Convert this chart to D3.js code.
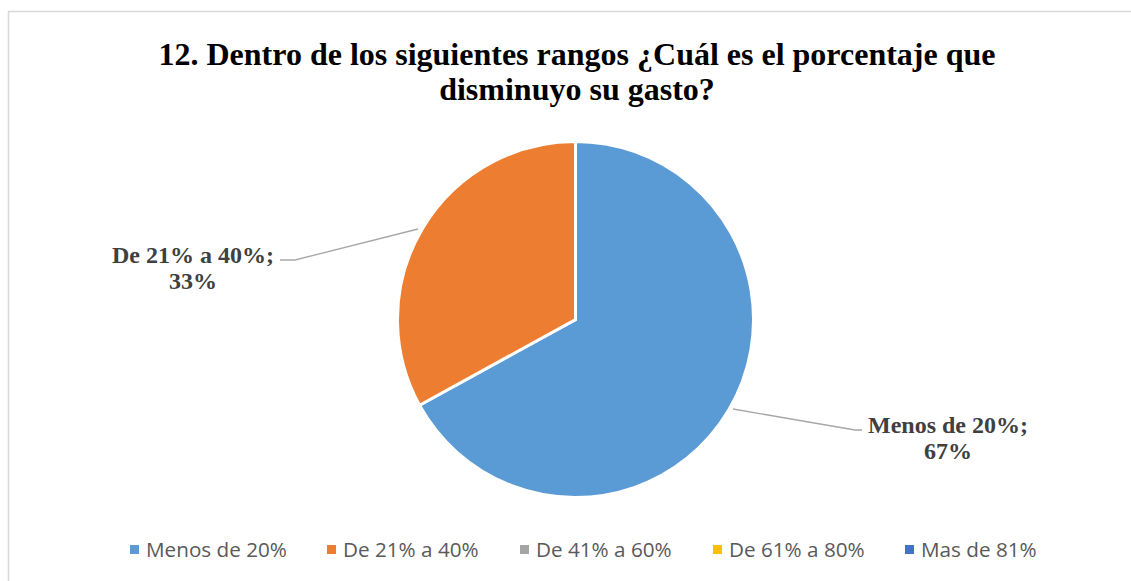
<!DOCTYPE html>
<html>
<head>
<meta charset="utf-8">
<script src="https://cdn.jsdelivr.net/npm/d3@7"></script>
<style>
  body { margin: 0; background: #fff; }
  svg { display: block; }
</style>
</head>
<body>
<svg id="chart"></svg>
<script>
  const categories = ['Menos de 20%', 'De 21% a 40%', 'De 41% a 60%', 'De 61% a 80%', 'Mas de 81%'];
  const values = [67, 33, 0, 0, 0];
  const colors = ['#5B9BD5', '#ED7D31', '#A5A5A5', '#FFC000', '#4472C4'];
  const titleLines = ['12. Dentro de los siguientes rangos ¿Cuál es el porcentaje que', 'disminuyo su gasto?'];

  const width = 1131, height = 581;
  const cx = 575.5, cy = 319.5, radius = 178;

  const svg = d3.select('#chart')
    .attr('width', width)
    .attr('height', height);

  // chart frame
  svg.append('rect')
    .attr('x', 8.5).attr('y', 11.5)
    .attr('width', 1140).attr('height', 600)
    .attr('fill', '#fff')
    .attr('stroke', '#d9d9d9')
    .attr('stroke-width', 1.5);

  svg.append('text')
    .attr('text-anchor', 'middle')
    .attr('font-family', '"Liberation Serif", "Times New Roman", serif')
    .attr('font-weight', 'bold')
    .attr('font-size', 32)
    .attr('fill', '#000')
    .selectAll('tspan')
    .data(titleLines)
    .enter()
    .append('tspan')
    .attr('x', 577)
    .attr('y', (d, i) => 65 + i * 35)
    .text(d => d);

  const data = categories.map((name, i) => ({ name, value: values[i], color: colors[i] }));

  const pie = d3.pie().sort(null).value(d => d.value);
  const arc = d3.arc().innerRadius(0).outerRadius(radius);
  const arcs = pie(data);

  const g = svg.append('g').attr('transform', `translate(${cx},${cy})`);

  g.selectAll('path')
    .data(arcs.filter(d => d.data.value > 0))
    .enter()
    .append('path')
    .attr('d', arc)
    .attr('fill', d => d.data.color)
    .attr('stroke', '#fff')
    .attr('stroke-width', 3)
    .attr('stroke-linejoin', 'miter');

  // data labels with leader lines
  const labelSpots = {
    'Menos de 20%': { x: 948, y: 433, from: [733, 409], elbow: [855, 430], end: [862, 430] },
    'De 21% a 40%': { x: 193, y: 263, from: [418, 229], elbow: [295, 260], end: [280, 260] }
  };

  arcs.filter(d => d.data.value > 0).forEach(d => {
    const spot = labelSpots[d.data.name];
    svg.append('polyline')
      .attr('points', [spot.from, spot.elbow, spot.end].map(p => p.join(',')).join(' '))
      .attr('fill', 'none')
      .attr('stroke', '#a6a6a6')
      .attr('stroke-width', 1.3);

    const t = svg.append('text')
      .attr('text-anchor', 'middle')
      .attr('font-family', '"Liberation Serif", "Times New Roman", serif')
      .attr('font-weight', 'bold')
      .attr('font-size', 24)
      .attr('fill', '#404040');
    t.append('tspan').attr('x', spot.x).attr('y', spot.y).text(d.data.name + ';');
    t.append('tspan').attr('x', spot.x).attr('y', spot.y + 26).text(d3.format('.0%')(d.data.value / d3.sum(values)));
  });

  // legend
  const legendX = [130, 327, 520, 713, 905];
  const legend = svg.append('g')
    .selectAll('g')
    .data(data)
    .enter()
    .append('g')
    .attr('transform', (d, i) => `translate(${legendX[i]},550)`);

  legend.append('rect')
    .attr('x', 0).attr('y', -5)
    .attr('width', 9).attr('height', 9)
    .attr('fill', d => d.color);

  const legendText = legend.append('text')
    .attr('x', 16)
    .attr('y', 7)
    .attr('font-family', '"Open Sans", "Liberation Sans", sans-serif')
    .attr('font-size', 18)
    .attr('fill', '#595959')
    .text(d => d.name);

  // size the legend font so "Menos de 20%" spans about 141px like the original
  const w0 = legendText.node().getComputedTextLength();
  const fs = Math.min(22, 18 * 141 / w0);
  legendText.attr('font-size', fs).attr('y', fs * 0.36);
</script>
</body>
</html>
